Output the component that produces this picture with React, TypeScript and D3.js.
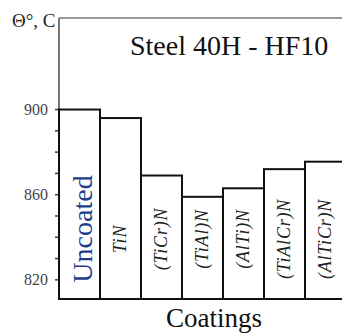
import React, { useEffect, useRef } from "react";
import * as d3 from "d3";

const coatings = ["Uncoated", "TiN", "(TiCr)N", "(TiAl)N", "(AlTi)N", "(TiAlCr)N", "(AlTiCr)N"];
const temperatures = [900, 896, 869, 859, 863, 872, 875.5];
const majorTicks = [820, 860, 900];
const minorTicks = [820, 830, 840, 850, 860, 870, 880, 890, 900];

export default function App() {
  const ref = useRef<SVGSVGElement>(null);

  useEffect(() => {
    const svg = d3.select(ref.current);
    svg.selectAll("*").remove();

    const x = d3.scaleBand().domain(coatings).range([59, 346]).padding(0);
    const y = d3.scaleLinear().domain([811, 943]).range([299, 18]);
    const serif = '"Liberation Serif", "Times New Roman", Times, "DejaVu Serif", serif';

    // frame: left axis and top line
    svg.append("line")
      .attr("x1", 59).attr("x2", 59).attr("y1", y(943)).attr("y2", y(811))
      .attr("stroke", "#555").attr("stroke-width", 1.6);
    svg.append("line")
      .attr("x1", 59).attr("x2", 342).attr("y1", y(943)).attr("y2", y(943))
      .attr("stroke", "#777").attr("stroke-width", 1.6);

    // ticks cross the axis
    svg.selectAll("line.tick")
      .data(minorTicks)
      .enter()
      .append("line")
      .attr("class", "tick")
      .attr("x1", 55).attr("x2", 62)
      .attr("y1", d => y(d)).attr("y2", d => y(d))
      .attr("stroke", "#333").attr("stroke-width", 1.4);

    svg.selectAll("text.ylab")
      .data(majorTicks)
      .enter()
      .append("text")
      .attr("class", "ylab")
      .attr("x", 48)
      .attr("y", d => y(d) + 5)
      .attr("text-anchor", "end")
      .style("font-family", serif)
      .style("font-size", "16px")
      .attr("fill", "#444")
      .text(d => d);

    // bars
    svg.selectAll("rect.bar")
      .data(coatings)
      .enter()
      .append("rect")
      .attr("class", "bar")
      .attr("x", d => x(d)!)
      .attr("y", (d, i) => y(temperatures[i]))
      .attr("width", x.bandwidth())
      .attr("height", (d, i) => y(811) - y(temperatures[i]))
      .attr("fill", "#fff")
      .attr("stroke", "#111")
      .attr("stroke-width", 2);

    // bar labels, written bottom-to-top
    svg.selectAll("text.blab")
      .data(coatings)
      .enter()
      .append("text")
      .attr("class", "blab")
      .attr("transform", (d, i) => {
        const cx = x(d)! + x.bandwidth() / 2;
        return i === 0 ? `translate(${cx + 12},229) rotate(-90)` : `translate(${cx + 5},239) rotate(-90)`;
      })
      .attr("text-anchor", "middle")
      .style("font-family", serif)
      .style("font-size", (d, i) => (i === 0 ? "28px" : "18px"))
      .style("font-style", (d, i) => (i === 0 ? "normal" : "italic"))
      .style("letter-spacing", (d, i) => (i === 0 ? "0px" : "0.8px"))
      .attr("fill", (d, i) => (i === 0 ? "#1d3d8c" : "#222"))
      .text(d => d);

    svg.append("line")
      .attr("x1", 59).attr("x2", 342).attr("y1", y(811)).attr("y2", y(811))
      .attr("stroke", "#111").attr("stroke-width", 2);

    svg.append("text")
      .attr("x", 12).attr("y", 27)
      .style("font-family", serif).style("font-size", "19px").attr("fill", "#222")
      .text("Θ°, C");

    svg.append("text")
      .attr("x", 130).attr("y", 55)
      .style("font-family", serif).style("font-size", "28px").attr("fill", "#111")
      .text("Steel 40H - HF10");

    svg.append("text")
      .attr("x", 214).attr("y", 327)
      .attr("text-anchor", "middle")
      .style("font-family", serif).style("font-size", "27px").attr("fill", "#111")
      .text("Coatings");
  }, []);

  return (
    <svg ref={ref} width={342} height={335} style={{ position: "absolute", left: 0, top: 0, background: "#fff" }} />
  );
}
